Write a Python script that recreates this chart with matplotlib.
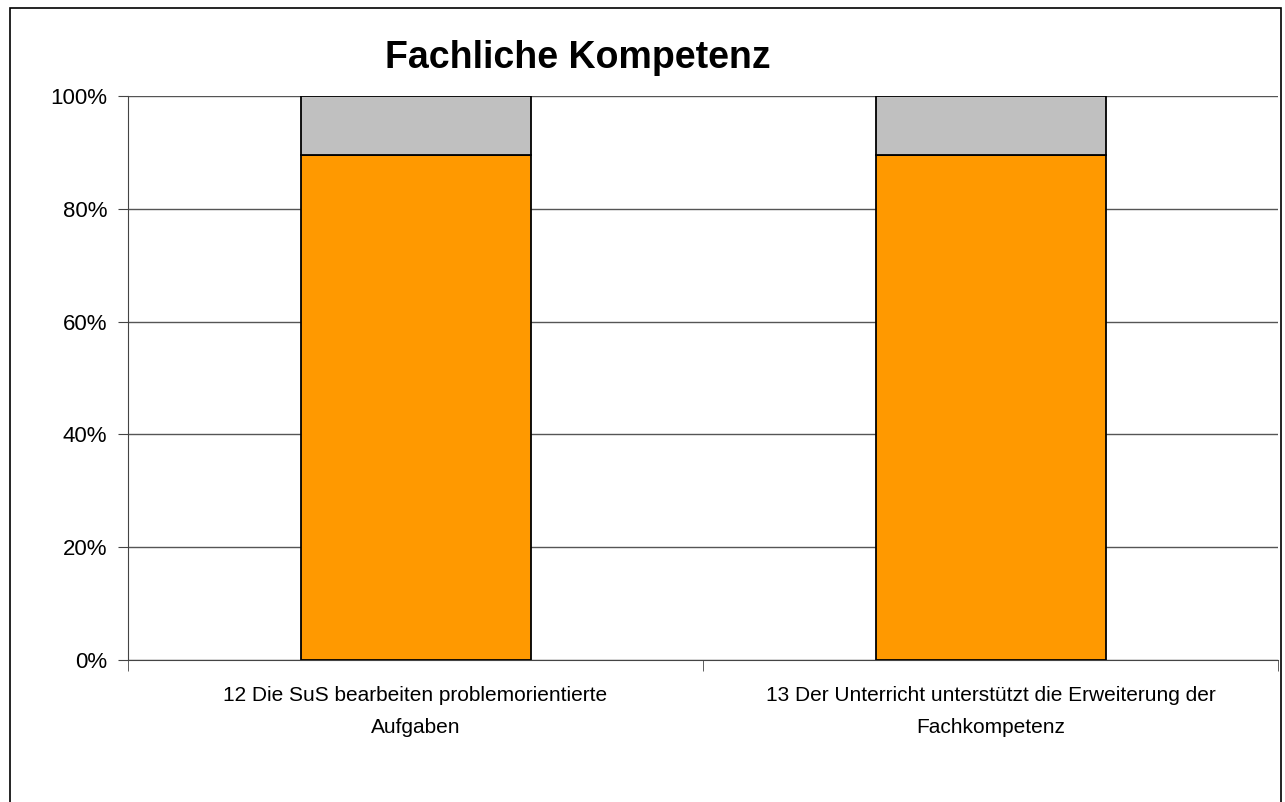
import matplotlib
matplotlib.use("Agg")
import matplotlib.pyplot as plt
from matplotlib.patches import Rectangle
from matplotlib.ticker import FixedLocator

categories = ["12 Die SuS bearbeiten problemorientierte\nAufgaben",
              "13 Der Unterricht unterstützt die Erweiterung der\nFachkompetenz"]
orange_vals = [89.47, 89.47]
gray_vals = [10.53, 10.53]
yticks = [0, 20, 40, 60, 80, 100]
ytick_labels = ["0%", "20%", "40%", "60%", "80%", "100%"]

plt.rcParams['font.family'] = ['Liberation Sans', 'DejaVu Sans']

fig = plt.figure(figsize=(12.85, 8.02), dpi=100)
fig.patches.append(Rectangle((9.5/1285, -0.01), (1280.5-9.5)/1285, 1 - 7.5/802 + 0.01,
                             transform=fig.transFigure, fill=False, edgecolor='black', lw=1.2))

ax = fig.add_axes([128/1285, 1 - 660/802, (1278-128)/1285, (660-96)/802])
x = list(range(len(categories)))
ax.bar(x, orange_vals, width=0.40, color='#FF9900', edgecolor='black', lw=1.3, zorder=3)
ax.bar(x, gray_vals, bottom=orange_vals, width=0.40, color='#C0C0C0', edgecolor='black', lw=1.3, zorder=3)

ax.set_xlim(-0.5, len(categories) - 0.5)
ax.set_ylim(0, 100)
ax.set_yticks(yticks)
ax.set_yticklabels(ytick_labels, fontsize=16)
ax.yaxis.grid(True, color='#555555', lw=1.0, zorder=0)
ax.set_xticks(x)
ax.set_xticklabels(categories, fontsize=15, linespacing=1.85)
ax.tick_params(axis='x', length=0, pad=19)
ax.xaxis.set_minor_locator(FixedLocator([-0.5, 0.5, 1.5]))
ax.tick_params(axis='x', which='minor', length=8, direction='out', color='#444444')
ax.tick_params(axis='y', length=7, direction='out', color='#444444', pad=8)
for s in ['top', 'right']:
    ax.spines[s].set_visible(False)
ax.spines['left'].set_color('#444444')
ax.spines['bottom'].set_color('#444444')

fig.text(578/1285, 1 - 58/802, "Fachliche Kompetenz", ha='center', va='center',
         fontsize=27, fontweight='bold')

fig.savefig("out.png", dpi=100)
